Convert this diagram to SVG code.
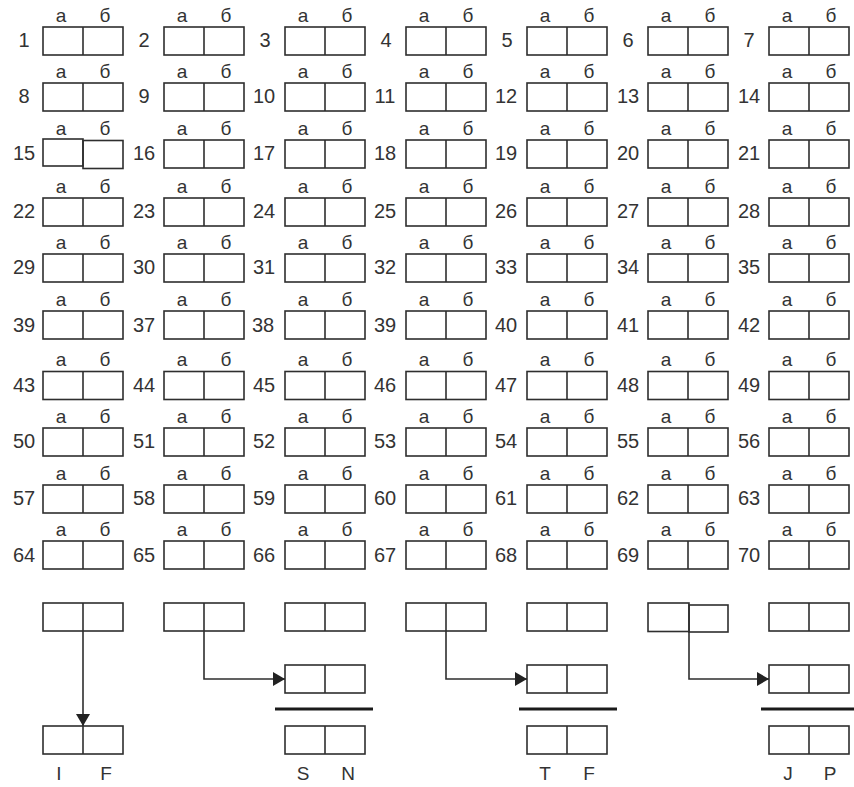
<svg xmlns="http://www.w3.org/2000/svg" xmlns:xlink="http://www.w3.org/1999/xlink" width="854" height="787" viewBox="0 0 854 787">
<style>
.bx{fill:none;stroke:#2e2e2e;stroke-width:1.6}
.cell{fill:none;stroke:#2e2e2e;stroke-width:1.6}
text{font-family:"Liberation Sans",Arial,sans-serif;font-size:19px;fill:#333;text-anchor:middle}
.num{font-size:20px}
.conn{fill:none;stroke:#2e2e2e;stroke-width:1.6}
.bar{stroke:#1a1a1a;stroke-width:3.2}
</style>
<defs>
<g id="box" class="bx"><rect x="0" y="0" width="80" height="28"/><line x1="40" y1="0" x2="40" y2="28"/></g>
<marker id="ah" viewBox="0 0 12 14" refX="12" refY="7" markerWidth="12" markerHeight="14" orient="auto" markerUnits="userSpaceOnUse"><path d="M0,0 L12,7 L0,14 z" fill="#222"/></marker>
</defs>
<rect width="854" height="787" fill="#fff"/>

<!-- row 1 -->
<g id="n1"><text class="num" x="24" y="47">1</text><text x="61" y="22">а</text><text x="105" y="22">б</text><use xlink:href="#box" href="#box" x="43" y="27"/></g>
<g id="n2"><text class="num" x="144" y="47">2</text><text x="182" y="22">а</text><text x="226" y="22">б</text><use xlink:href="#box" href="#box" x="164" y="27"/></g>
<g id="n3"><text class="num" x="265" y="47">3</text><text x="303" y="22">а</text><text x="347" y="22">б</text><use xlink:href="#box" href="#box" x="285" y="27"/></g>
<g id="n4"><text class="num" x="386" y="47">4</text><text x="424" y="22">а</text><text x="468" y="22">б</text><use xlink:href="#box" href="#box" x="406" y="27"/></g>
<g id="n5"><text class="num" x="507" y="47">5</text><text x="545" y="22">а</text><text x="589" y="22">б</text><use xlink:href="#box" href="#box" x="527" y="27"/></g>
<g id="n6"><text class="num" x="628" y="47">6</text><text x="666" y="22">а</text><text x="710" y="22">б</text><use xlink:href="#box" href="#box" x="648" y="27"/></g>
<g id="n7"><text class="num" x="749" y="47">7</text><text x="787" y="22">а</text><text x="831" y="22">б</text><use xlink:href="#box" href="#box" x="769" y="27"/></g>
<!-- row 2 -->
<g id="n8"><text class="num" x="24" y="103">8</text><text x="61" y="78">а</text><text x="105" y="78">б</text><use xlink:href="#box" href="#box" x="43" y="83"/></g>
<g id="n9"><text class="num" x="144" y="103">9</text><text x="182" y="78">а</text><text x="226" y="78">б</text><use xlink:href="#box" href="#box" x="164" y="83"/></g>
<g id="n10"><text class="num" x="264" y="103">10</text><text x="303" y="78">а</text><text x="347" y="78">б</text><use xlink:href="#box" href="#box" x="285" y="83"/></g>
<g id="n11"><text class="num" x="385" y="103">11</text><text x="424" y="78">а</text><text x="468" y="78">б</text><use xlink:href="#box" href="#box" x="406" y="83"/></g>
<g id="n12"><text class="num" x="506" y="103">12</text><text x="545" y="78">а</text><text x="589" y="78">б</text><use xlink:href="#box" href="#box" x="527" y="83"/></g>
<g id="n13"><text class="num" x="628" y="103">13</text><text x="666" y="78">а</text><text x="710" y="78">б</text><use xlink:href="#box" href="#box" x="648" y="83"/></g>
<g id="n14"><text class="num" x="749" y="103">14</text><text x="787" y="78">а</text><text x="831" y="78">б</text><use xlink:href="#box" href="#box" x="769" y="83"/></g>
<!-- row 3 -->
<g id="n15"><text class="num" x="24" y="160">15</text><text x="61" y="135">а</text><text x="105" y="135">б</text><rect class="cell" x="43" y="139" width="40" height="27"/><rect class="cell" x="83" y="140.5" width="40" height="28"/></g>
<g id="n16"><text class="num" x="144" y="160">16</text><text x="182" y="135">а</text><text x="226" y="135">б</text><use xlink:href="#box" href="#box" x="164" y="140"/></g>
<g id="n17"><text class="num" x="264" y="160">17</text><text x="303" y="135">а</text><text x="347" y="135">б</text><use xlink:href="#box" href="#box" x="285" y="140"/></g>
<g id="n18"><text class="num" x="385" y="160">18</text><text x="424" y="135">а</text><text x="468" y="135">б</text><use xlink:href="#box" href="#box" x="406" y="140"/></g>
<g id="n19"><text class="num" x="506" y="160">19</text><text x="545" y="135">а</text><text x="589" y="135">б</text><use xlink:href="#box" href="#box" x="527" y="140"/></g>
<g id="n20"><text class="num" x="628" y="160">20</text><text x="666" y="135">а</text><text x="710" y="135">б</text><use xlink:href="#box" href="#box" x="648" y="140"/></g>
<g id="n21"><text class="num" x="749" y="160">21</text><text x="787" y="135">а</text><text x="831" y="135">б</text><use xlink:href="#box" href="#box" x="769" y="140"/></g>
<!-- row 4 -->
<g id="n22"><text class="num" x="24" y="218">22</text><text x="61" y="193">а</text><text x="105" y="193">б</text><use xlink:href="#box" href="#box" x="43" y="198"/></g>
<g id="n23"><text class="num" x="144" y="218">23</text><text x="182" y="193">а</text><text x="226" y="193">б</text><use xlink:href="#box" href="#box" x="164" y="198"/></g>
<g id="n24"><text class="num" x="264" y="218">24</text><text x="303" y="193">а</text><text x="347" y="193">б</text><use xlink:href="#box" href="#box" x="285" y="198"/></g>
<g id="n25"><text class="num" x="385" y="218">25</text><text x="424" y="193">а</text><text x="468" y="193">б</text><use xlink:href="#box" href="#box" x="406" y="198"/></g>
<g id="n26"><text class="num" x="506" y="218">26</text><text x="545" y="193">а</text><text x="589" y="193">б</text><use xlink:href="#box" href="#box" x="527" y="198"/></g>
<g id="n27"><text class="num" x="628" y="218">27</text><text x="666" y="193">а</text><text x="710" y="193">б</text><use xlink:href="#box" href="#box" x="648" y="198"/></g>
<g id="n28"><text class="num" x="749" y="218">28</text><text x="787" y="193">а</text><text x="831" y="193">б</text><use xlink:href="#box" href="#box" x="769" y="198"/></g>
<!-- row 5 -->
<g id="n29"><text class="num" x="24" y="274">29</text><text x="61" y="249">а</text><text x="105" y="249">б</text><use xlink:href="#box" href="#box" x="43" y="254"/></g>
<g id="n30"><text class="num" x="144" y="274">30</text><text x="182" y="249">а</text><text x="226" y="249">б</text><use xlink:href="#box" href="#box" x="164" y="254"/></g>
<g id="n31"><text class="num" x="264" y="274">31</text><text x="303" y="249">а</text><text x="347" y="249">б</text><use xlink:href="#box" href="#box" x="285" y="254"/></g>
<g id="n32"><text class="num" x="385" y="274">32</text><text x="424" y="249">а</text><text x="468" y="249">б</text><use xlink:href="#box" href="#box" x="406" y="254"/></g>
<g id="n33"><text class="num" x="506" y="274">33</text><text x="545" y="249">а</text><text x="589" y="249">б</text><use xlink:href="#box" href="#box" x="527" y="254"/></g>
<g id="n34"><text class="num" x="628" y="274">34</text><text x="666" y="249">а</text><text x="710" y="249">б</text><use xlink:href="#box" href="#box" x="648" y="254"/></g>
<g id="n35"><text class="num" x="749" y="274">35</text><text x="787" y="249">а</text><text x="831" y="249">б</text><use xlink:href="#box" href="#box" x="769" y="254"/></g>
<!-- row 6 -->
<g id="n36"><text class="num" x="24" y="332">39</text><text x="61" y="306">а</text><text x="105" y="306">б</text><use xlink:href="#box" href="#box" x="43" y="311"/></g>
<g id="n37"><text class="num" x="144" y="332">37</text><text x="182" y="306">а</text><text x="226" y="306">б</text><use xlink:href="#box" href="#box" x="164" y="311"/></g>
<g id="n38"><text class="num" x="263" y="332">38</text><text x="303" y="306">а</text><text x="347" y="306">б</text><use xlink:href="#box" href="#box" x="285" y="311"/></g>
<g id="n39"><text class="num" x="385" y="332">39</text><text x="424" y="306">а</text><text x="468" y="306">б</text><use xlink:href="#box" href="#box" x="406" y="311"/></g>
<g id="n40"><text class="num" x="506" y="332">40</text><text x="545" y="306">а</text><text x="589" y="306">б</text><use xlink:href="#box" href="#box" x="527" y="311"/></g>
<g id="n41"><text class="num" x="628" y="332">41</text><text x="666" y="306">а</text><text x="710" y="306">б</text><use xlink:href="#box" href="#box" x="648" y="311"/></g>
<g id="n42"><text class="num" x="749" y="332">42</text><text x="787" y="306">а</text><text x="831" y="306">б</text><use xlink:href="#box" href="#box" x="769" y="311"/></g>
<!-- row 7 -->
<g id="n43"><text class="num" x="24" y="392">43</text><text x="61" y="366">а</text><text x="105" y="366">б</text><use xlink:href="#box" href="#box" x="43" y="371.5"/></g>
<g id="n44"><text class="num" x="144" y="392">44</text><text x="182" y="366">а</text><text x="226" y="366">б</text><use xlink:href="#box" href="#box" x="164" y="371.5"/></g>
<g id="n45"><text class="num" x="264" y="392">45</text><text x="303" y="366">а</text><text x="347" y="366">б</text><use xlink:href="#box" href="#box" x="285" y="371.5"/></g>
<g id="n46"><text class="num" x="385" y="392">46</text><text x="424" y="366">а</text><text x="468" y="366">б</text><use xlink:href="#box" href="#box" x="406" y="371.5"/></g>
<g id="n47"><text class="num" x="506" y="392">47</text><text x="545" y="366">а</text><text x="589" y="366">б</text><use xlink:href="#box" href="#box" x="527" y="371.5"/></g>
<g id="n48"><text class="num" x="628" y="392">48</text><text x="666" y="366">а</text><text x="710" y="366">б</text><use xlink:href="#box" href="#box" x="648" y="371.5"/></g>
<g id="n49"><text class="num" x="749" y="392">49</text><text x="787" y="366">а</text><text x="831" y="366">б</text><use xlink:href="#box" href="#box" x="769" y="371.5"/></g>
<!-- row 8 -->
<g id="n50"><text class="num" x="24" y="448">50</text><text x="61" y="423">а</text><text x="105" y="423">б</text><use xlink:href="#box" href="#box" x="43" y="428"/></g>
<g id="n51"><text class="num" x="144" y="448">51</text><text x="182" y="423">а</text><text x="226" y="423">б</text><use xlink:href="#box" href="#box" x="164" y="428"/></g>
<g id="n52"><text class="num" x="264" y="448">52</text><text x="303" y="423">а</text><text x="347" y="423">б</text><use xlink:href="#box" href="#box" x="285" y="428"/></g>
<g id="n53"><text class="num" x="385" y="448">53</text><text x="424" y="423">а</text><text x="468" y="423">б</text><use xlink:href="#box" href="#box" x="406" y="428"/></g>
<g id="n54"><text class="num" x="506" y="448">54</text><text x="545" y="423">а</text><text x="589" y="423">б</text><use xlink:href="#box" href="#box" x="527" y="428"/></g>
<g id="n55"><text class="num" x="628" y="448">55</text><text x="666" y="423">а</text><text x="710" y="423">б</text><use xlink:href="#box" href="#box" x="648" y="428"/></g>
<g id="n56"><text class="num" x="749" y="448">56</text><text x="787" y="423">а</text><text x="831" y="423">б</text><use xlink:href="#box" href="#box" x="769" y="428"/></g>
<!-- row 9 -->
<g id="n57"><text class="num" x="24" y="505">57</text><text x="61" y="480">а</text><text x="105" y="480">б</text><use xlink:href="#box" href="#box" x="43" y="485"/></g>
<g id="n58"><text class="num" x="144" y="505">58</text><text x="182" y="480">а</text><text x="226" y="480">б</text><use xlink:href="#box" href="#box" x="164" y="485"/></g>
<g id="n59"><text class="num" x="264" y="505">59</text><text x="303" y="480">а</text><text x="347" y="480">б</text><use xlink:href="#box" href="#box" x="285" y="485"/></g>
<g id="n60"><text class="num" x="385" y="505">60</text><text x="424" y="480">а</text><text x="468" y="480">б</text><use xlink:href="#box" href="#box" x="406" y="485"/></g>
<g id="n61"><text class="num" x="506" y="505">61</text><text x="545" y="480">а</text><text x="589" y="480">б</text><use xlink:href="#box" href="#box" x="527" y="485"/></g>
<g id="n62"><text class="num" x="628" y="505">62</text><text x="666" y="480">а</text><text x="710" y="480">б</text><use xlink:href="#box" href="#box" x="648" y="485"/></g>
<g id="n63"><text class="num" x="749" y="505">63</text><text x="787" y="480">а</text><text x="831" y="480">б</text><use xlink:href="#box" href="#box" x="769" y="485"/></g>
<!-- row 10 -->
<g id="n64"><text class="num" x="24" y="562">64</text><text x="61" y="536">а</text><text x="105" y="536">б</text><use xlink:href="#box" href="#box" x="43" y="541"/></g>
<g id="n65"><text class="num" x="144" y="562">65</text><text x="182" y="536">а</text><text x="226" y="536">б</text><use xlink:href="#box" href="#box" x="164" y="541"/></g>
<g id="n66"><text class="num" x="264" y="562">66</text><text x="303" y="536">а</text><text x="347" y="536">б</text><use xlink:href="#box" href="#box" x="285" y="541"/></g>
<g id="n67"><text class="num" x="385" y="562">67</text><text x="424" y="536">а</text><text x="468" y="536">б</text><use xlink:href="#box" href="#box" x="406" y="541"/></g>
<g id="n68"><text class="num" x="506" y="562">68</text><text x="545" y="536">а</text><text x="589" y="536">б</text><use xlink:href="#box" href="#box" x="527" y="541"/></g>
<g id="n69"><text class="num" x="628" y="562">69</text><text x="666" y="536">а</text><text x="710" y="536">б</text><use xlink:href="#box" href="#box" x="648" y="541"/></g>
<g id="n70"><text class="num" x="749" y="562">70</text><text x="787" y="536">а</text><text x="831" y="536">б</text><use xlink:href="#box" href="#box" x="769" y="541"/></g>

<!-- bottom section: top row -->
<g id="t1"><use xlink:href="#box" href="#box" x="43" y="603"/></g>
<g id="t2"><use xlink:href="#box" href="#box" x="164" y="603"/></g>
<g id="t3"><use xlink:href="#box" href="#box" x="285" y="603"/></g>
<g id="t4"><use xlink:href="#box" href="#box" x="406" y="603"/></g>
<g id="t5"><use xlink:href="#box" href="#box" x="527" y="603"/></g>
<g id="t6"><rect class="cell" x="648" y="603" width="41" height="28.5"/><rect class="cell" x="689" y="605" width="39" height="27"/></g>
<g id="t7"><use xlink:href="#box" href="#box" x="769" y="603"/></g>
<!-- middle row -->
<g id="m3"><use xlink:href="#box" href="#box" x="285" y="665"/></g>
<g id="m5"><use xlink:href="#box" href="#box" x="527" y="665"/></g>
<g id="m7"><use xlink:href="#box" href="#box" x="769" y="665"/></g>
<!-- bars -->
<g id="bars">
<line class="bar" x1="275" y1="709" x2="373" y2="709"/>
<line class="bar" x1="519" y1="709" x2="617" y2="709"/>
<line class="bar" x1="761" y1="709" x2="854" y2="709"/>
</g>
<!-- result row -->
<g id="r1"><use xlink:href="#box" href="#box" x="43" y="726"/><text x="59" y="780">I</text><text x="106" y="780">F</text></g>
<g id="r3"><use xlink:href="#box" href="#box" x="285" y="726"/><text x="303" y="780">S</text><text x="348" y="780">N</text></g>
<g id="r5"><use xlink:href="#box" href="#box" x="527" y="726"/><text x="545" y="780">T</text><text x="589" y="780">F</text></g>
<g id="r7"><use xlink:href="#box" href="#box" x="769" y="726"/><text x="788" y="780">J</text><text x="830" y="780">P</text></g>

<!-- connectors -->
<g id="connectors">
<path class="conn" d="M83,631 V726" marker-end="url(#ah)"/>
<path class="conn" d="M204,631 V679 H285" marker-end="url(#ah)"/>
<path class="conn" d="M446,631 V679 H527" marker-end="url(#ah)"/>
<path class="conn" d="M689,632 V679 H769" marker-end="url(#ah)"/>
</g>
</svg>
